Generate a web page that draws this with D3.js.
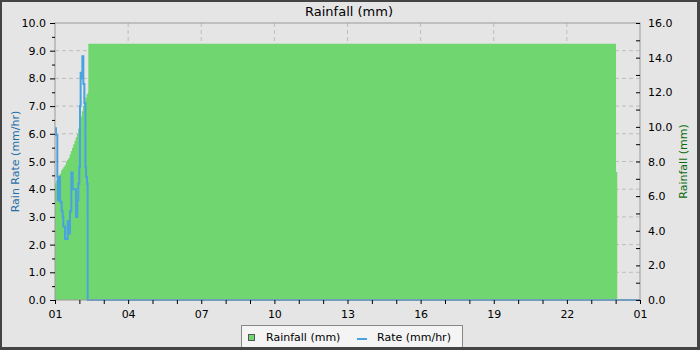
<!DOCTYPE html>
<html>
<head>
<meta charset="utf-8" />
<title>Rainfall (mm)</title>
<script src="https://d3js.org/d3.v7.min.js"></script>
<style>
  body { margin: 0; background: #e5e5e5; }
  svg { display: block; font-family: "DejaVu Sans", sans-serif; }
</style>
</head>
<body>
<svg width="700" height="350"></svg>
<script>
// minutes after 01:00
const rainTime = [0, 3, 6, 9, 12, 15, 18, 21, 24, 27, 30, 33, 36, 39, 42, 45, 48, 51, 54, 57,
  60, 63, 66, 69, 72, 75, 78, 81, 82, 1381, 1384];
const rainTotal = [6.75, 6.95, 7.1, 7.2, 7.3, 7.5, 7.6, 7.7, 7.8, 8.0, 8.1, 8.2, 8.4, 8.6, 8.8, 9.0, 9.2, 9.4, 9.6, 9.9,
  10.2, 10.6, 10.9, 11.2, 11.5, 11.7, 11.9, 12.0, 14.8, 7.4, 7.4];

const rateTime = [0, 2.5, 5.7, 7, 8.2, 9.5, 10.7, 12.3, 16.4, 18.9, 20.5, 24.6, 31.2, 33.5, 35.3, 36.9,
  40.2, 43.5, 47.6, 51.7, 55, 57.4, 59.9, 61.5, 63.1, 65.6, 67.3, 69.8, 72.3, 74.8, 76.4, 78.8, 80.4, 1440];
const rateValue = [6.2, 5.95, 4.45, 3.6, 4.45, 3.6, 4.45, 3.55, 3.2, 3.0, 2.65, 2.2, 2.85, 2.8, 2.4, 3.2,
  4.6, 4.0, 4.0, 3.0, 3.6, 4.2, 4.8, 7.0, 8.2, 8.0, 8.8, 7.8, 7.1, 4.8, 4.45, 4.2, 0.0, 0.0];

const hourTicks = d3.range(0, 1441, 60);
const labelTicks = d3.range(0, 1441, 180);

const svg = d3.select("svg");
const W = 700, H = 350;
const margin = { top: 23, right: 60, bottom: 50, left: 55 };

svg.append("rect").attr("width", W).attr("height", H).attr("fill", "#e5e5e5");

const x = d3.scaleLinear().domain([0, 1440]).range([margin.left, W - margin.right]);
const yL = d3.scaleLinear().domain([0, 10]).range([H - margin.bottom, margin.top]);
const yR = d3.scaleLinear().domain([0, 16]).range([H - margin.bottom, margin.top]);

// grid
const grid = svg.append("g").attr("stroke", "#bdbdbd").attr("stroke-dasharray", "4,3");
grid.selectAll(".h").data(d3.range(1, 10)).join("line")
  .attr("x1", margin.left).attr("x2", W - margin.right)
  .attr("y1", d => yL(d)).attr("y2", d => yL(d));
grid.selectAll(".v").data(labelTicks.slice(1, -1)).join("line")
  .attr("y1", margin.top).attr("y2", H - margin.bottom)
  .attr("x1", d => x(d)).attr("x2", d => x(d));

// rainfall area
const rain = rainTime.map((t, i) => ({ t: t, v: rainTotal[i] }));
svg.append("path").datum(rain)
  .attr("fill", "#70d670")
  .attr("d", d3.area().curve(d3.curveStepAfter)
    .x(d => x(d.t)).y0(yR(0)).y1(d => yR(d.v)));

// rate line
const rate = rateTime.map((t, i) => ({ t: t, v: rateValue[i] }));
svg.append("path").datum(rate)
  .attr("fill", "none").attr("stroke", "#4aa3df").attr("stroke-width", 2)
  .attr("d", d3.line().curve(d3.curveStepAfter).x(d => x(d.t)).y(d => yL(d.v)));

// frame
svg.append("rect")
  .attr("x", margin.left).attr("y", margin.top)
  .attr("width", W - margin.left - margin.right).attr("height", H - margin.top - margin.bottom)
  .attr("fill", "none").attr("stroke", "#999");

const fmt = d3.format(".1f");

// left axis
svg.append("g").attr("transform", "translate(" + margin.left + ",0)")
  .call(d3.axisLeft(yL).tickValues(d3.range(0.5, 10, 1)).tickSize(3).tickFormat(""))
  .call(g => g.select(".domain").remove());
svg.append("g").attr("transform", "translate(" + margin.left + ",0)")
  .call(d3.axisLeft(yL).tickValues(d3.range(0, 11, 1)).tickSize(5).tickPadding(4).tickFormat(fmt))
  .call(g => g.select(".domain").remove());

// right axis
svg.append("g").attr("transform", "translate(" + (W - margin.right) + ",0)")
  .call(d3.axisRight(yR).tickValues(d3.range(0, 17, 1)).tickSize(-4).tickPadding(8)
    .tickFormat(d => d % 2 === 0 ? fmt(d) : ""))
  .call(g => g.select(".domain").remove());

// bottom axis
svg.append("g").attr("transform", "translate(0," + (H - margin.bottom) + ")")
  .call(d3.axisBottom(x).tickValues(hourTicks).tickSize(4).tickPadding(6)
    .tickFormat(d => d % 180 === 0 ? String(1 + (d / 60) % 24).padStart(2, "0").replace("25", "01") : ""))
  .call(g => g.select(".domain").remove());

svg.selectAll(".tick text").attr("font-size", 11).attr("fill", "#000").attr("font-family", "DejaVu Sans");
svg.selectAll(".tick line").attr("stroke", "#000");

// titles
svg.append("text").attr("x", 349).attr("y", 16).attr("text-anchor", "middle")
  .attr("font-size", 13).text("Rainfall (mm)");
svg.append("text").attr("transform", "translate(19," + yL(5) + ") rotate(-90)")
  .attr("text-anchor", "middle").attr("font-size", 11).attr("fill", "#1f6fa8")
  .text("Rain Rate (mm/hr)");
svg.append("text").attr("transform", "translate(687," + yL(5) + ") rotate(-90)")
  .attr("text-anchor", "middle").attr("font-size", 11).attr("fill", "#0b6b0b")
  .text("Rainfall (mm)");

// legend
const lg = svg.append("g");
lg.append("rect").attr("x", 241.5).attr("y", 325.5).attr("width", 221).attr("height", 24)
  .attr("fill", "#f4f4f4").attr("stroke", "#888");
lg.append("rect").attr("x", 248.5).attr("y", 334.5).attr("width", 6).attr("height", 6)
  .attr("fill", "#70d670").attr("stroke", "#555");
lg.append("text").attr("x", 266).attr("y", 341).attr("font-size", 11).text("Rainfall (mm)");
lg.append("line").attr("x1", 357).attr("x2", 367).attr("y1", 339).attr("y2", 339)
  .attr("stroke", "#4aa3df").attr("stroke-width", 2);
lg.append("text").attr("x", 377).attr("y", 341).attr("font-size", 11).text("Rate (mm/hr)");

// outer border
svg.append("path").attr("fill", "none").attr("stroke", "#444")
  .attr("d", "M1,1H698.5V348.5H1Z").attr("stroke-width", 2);
svg.append("path").attr("fill", "none").attr("stroke", "#444").attr("stroke-width", 3)
  .attr("d", "M698.5,0V350M0,348.5H700");
</script>
</body>
</html>
